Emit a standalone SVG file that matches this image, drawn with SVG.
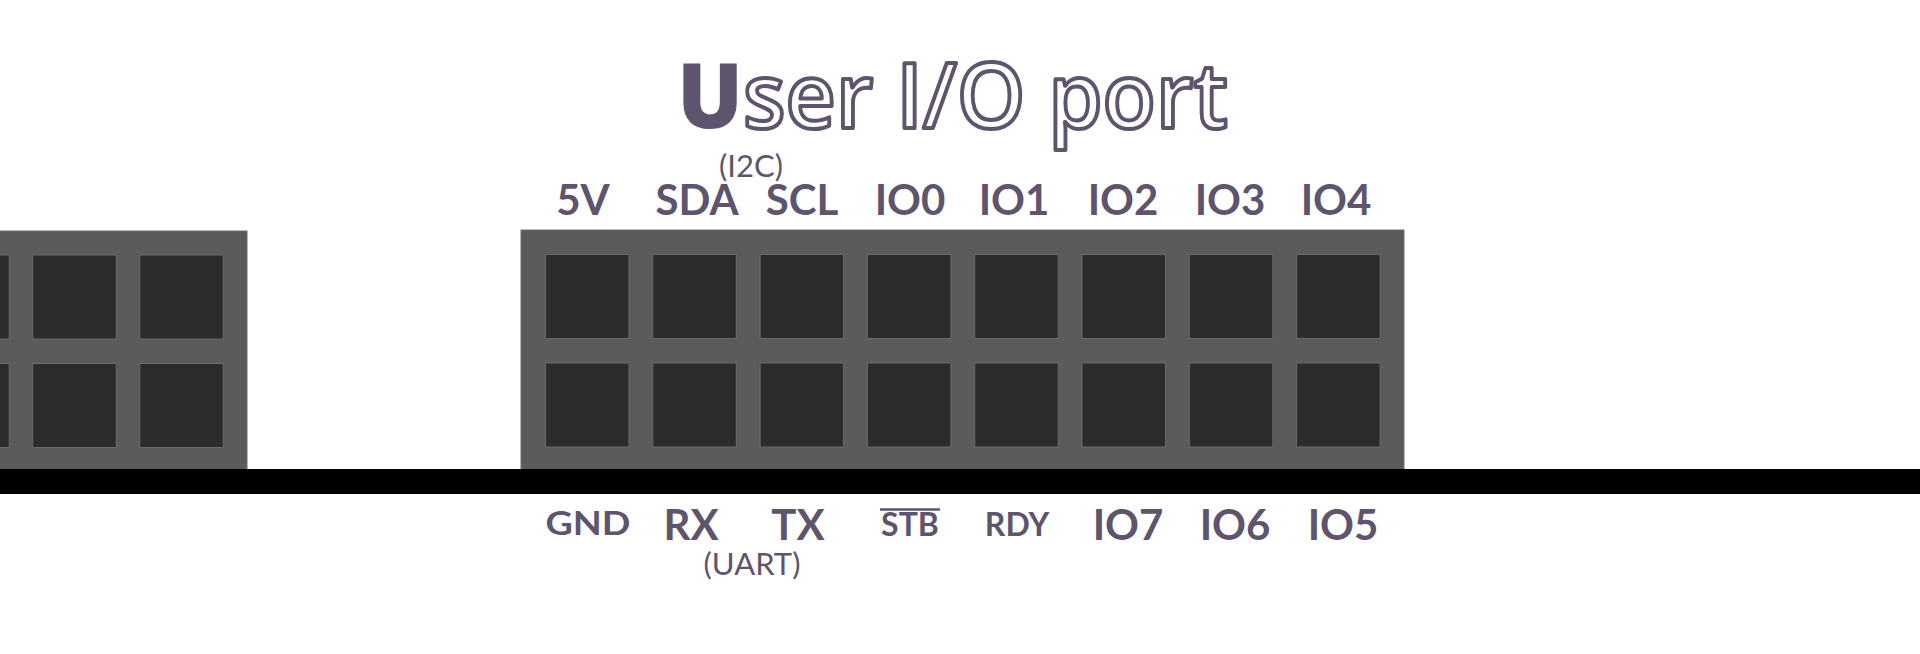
<svg xmlns="http://www.w3.org/2000/svg" width="1920" height="654" viewBox="0 0 1920 654">
  <style>
    .body { fill: #5b5b5b; stroke: #6f6f6f; stroke-width: 1; }
    .pad { fill: #2c2c2c; stroke: #6a6a6a; stroke-width: 1; }
    .lbl { font-family: Lato, "Open Sans", "Liberation Sans", sans-serif; font-weight: 700; fill: #5e546e; text-anchor: middle; }
    .top { font-size: 42px; }
    .big { font-size: 42px; }
    .small { font-size: 32px; }
    .note { font-family: Lato, "Open Sans", "Liberation Sans", sans-serif; font-weight: 400; fill: #5e546e; text-anchor: middle; font-size: 31px; }
    .title { font-family: "Open Sans", "Liberation Sans", sans-serif; font-size: 90px; }
  </style>
  <defs>
    <rect id="p" class="pad" width="83.5" height="84"/>
  </defs>
  <rect width="1920" height="654" fill="#ffffff"/>

  <g id="title">
    <text class="title" x="677" y="128" textLength="551" lengthAdjust="spacingAndGlyphs"><tspan font-weight="800" fill="#5e546e">U</tspan><tspan font-weight="600" fill="#ffffff" stroke="#5e546e" stroke-width="4" stroke-linejoin="round">ser I/O port</tspan></text>
  </g>

  <g id="left-connector">
    <rect class="body" x="-10" y="231" width="257" height="240"/>
    <use href="#p" x="-74.3" y="255"/>
    <use href="#p" x="32.7" y="255"/>
    <use href="#p" x="139.7" y="255"/>
    <use href="#p" x="-74.3" y="363.5"/>
    <use href="#p" x="32.7" y="363.5"/>
    <use href="#p" x="139.7" y="363.5"/>
  </g>

  <g id="user-io-connector">
    <rect class="body" x="521" y="230" width="883" height="241"/>
    <use href="#p" x="545.5" y="254.5"/>
    <use href="#p" x="652.8" y="254.5"/>
    <use href="#p" x="760.1" y="254.5"/>
    <use href="#p" x="867.4" y="254.5"/>
    <use href="#p" x="974.7" y="254.5"/>
    <use href="#p" x="1082" y="254.5"/>
    <use href="#p" x="1189.3" y="254.5"/>
    <use href="#p" x="1296.6" y="254.5"/>
    <use href="#p" x="545.5" y="363"/>
    <use href="#p" x="652.8" y="363"/>
    <use href="#p" x="760.1" y="363"/>
    <use href="#p" x="867.4" y="363"/>
    <use href="#p" x="974.7" y="363"/>
    <use href="#p" x="1082" y="363"/>
    <use href="#p" x="1189.3" y="363"/>
    <use href="#p" x="1296.6" y="363"/>
  </g>

  <g id="board-edge">
    <rect x="0" y="469" width="1920" height="25" fill="#000000"/>
  </g>

  <g id="top-labels">
    <text class="lbl top" x="583" y="215">5V</text>
    <text class="lbl top" x="697" y="215">SDA</text>
    <text class="lbl top" x="802" y="215">SCL</text>
    <text class="lbl top" x="910" y="215">IO0</text>
    <text class="lbl top" x="1014" y="215">IO1</text>
    <text class="lbl top" x="1123" y="215">IO2</text>
    <text class="lbl top" x="1230" y="215">IO3</text>
    <text class="lbl top" x="1336" y="215">IO4</text>
    <text class="note" x="751" y="177" font-size="29">(I2C)</text>
  </g>

  <g id="bottom-labels">
    <text class="lbl small" x="588" y="535" textLength="85" lengthAdjust="spacingAndGlyphs">GND</text>
    <text class="lbl big" x="691" y="540">RX</text>
    <text class="lbl big" x="798" y="540">TX</text>
    <text class="lbl small" x="910" y="536">STB</text>
    <line x1="880" y1="509.5" x2="940" y2="509.5" stroke="#5e546e" stroke-width="2.5"/>
    <text class="lbl small" x="1017" y="536">RDY</text>
    <text class="lbl big" x="1128" y="540">IO7</text>
    <text class="lbl big" x="1235" y="540">IO6</text>
    <text class="lbl big" x="1343" y="540">IO5</text>
    <text class="note" x="752" y="575">(UART)</text>
  </g>

  <g id="connectors"/>
</svg>
